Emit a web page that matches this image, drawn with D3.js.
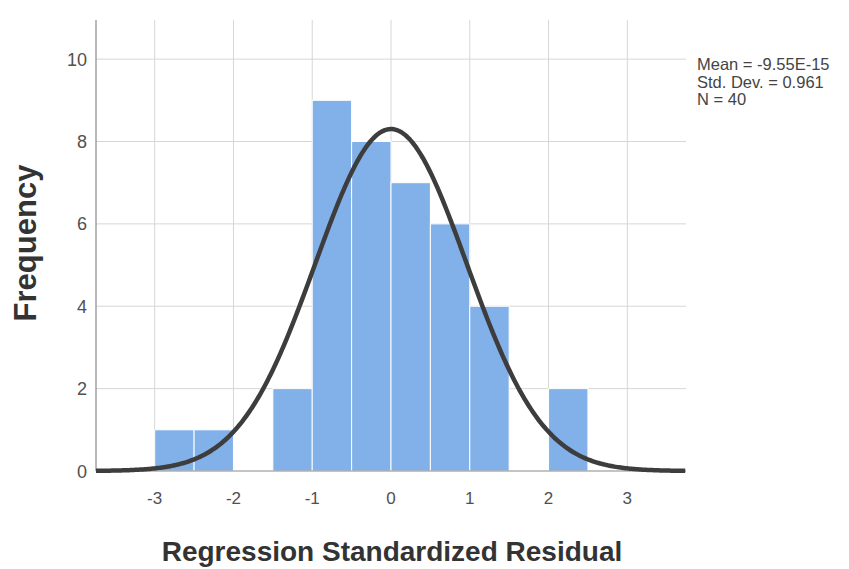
<!DOCTYPE html>
<html>
<head>
<meta charset="utf-8">
<script src="https://cdn.jsdelivr.net/npm/d3@7"></script>
<style>
  body { margin: 0; background: white; }
  text { font-family: "Liberation Sans", Arial, sans-serif; }
</style>
</head>
<body>
<svg id="chart" width="849" height="569"></svg>
<script>
// histogram bins (lower edge, upper edge) and counts
var binStart = [-3, -2.5, -1.5, -1, -0.5, 0, 0.5, 1, 2]
var binEnd   = [-2.5, -2, -1, -0.5, 0, 0.5, 1, 1.5, 2.5]
var counts   = [1, 1, 2, 9, 8, 7, 6, 4, 2]
var xTicks = [-3, -2, -1, 0, 1, 2, 3]
var yTicks = [0, 2, 4, 6, 8, 10]
var stats = ['Mean = -9.55E-15', 'Std. Dev. = 0.961', 'N = 40']
var mean = 0, sd = 0.961, n = 40, binWidth = 0.5

var svg = d3.select('#chart')
var plotLeft = 96, plotRight = 686, plotTop = 20, plotBottom = 471

var x = d3.scaleLinear().domain([-3.745, 3.745]).range([plotLeft, plotRight])
var y = d3.scaleLinear().domain([0, 10.95]).range([plotBottom, plotTop])

// grid
svg.append('g').selectAll('line').data(yTicks.filter(function(d){ return d > 0 }))
  .enter().append('line')
  .attr('x1', plotLeft).attr('x2', plotRight)
  .attr('y1', function(d){ return y(d) }).attr('y2', function(d){ return y(d) })
  .style('stroke', '#d6d6d6').style('stroke-width', 1)
svg.append('g').selectAll('line').data(xTicks)
  .enter().append('line')
  .attr('x1', function(d){ return x(d) }).attr('x2', function(d){ return x(d) })
  .attr('y1', plotTop).attr('y2', plotBottom)
  .style('stroke', '#d6d6d6').style('stroke-width', 1)

// bars
svg.append('g').selectAll('rect').data(counts)
  .enter().append('rect')
  .attr('x', function(d, i){ return x(binStart[i]) })
  .attr('width', function(d, i){ return x(binEnd[i]) - x(binStart[i]) })
  .attr('y', function(d){ return y(d) })
  .attr('height', function(d){ return plotBottom - y(d) })
  .style('fill', '#82b1ea')
  .style('stroke', '#ffffff')
  .style('stroke-width', 1)

// axes lines
svg.append('line').attr('x1', plotLeft).attr('x2', plotLeft).attr('y1', plotTop).attr('y2', plotBottom)
  .style('stroke', '#8a8a8a').style('stroke-width', 1.2)
svg.append('line').attr('x1', plotLeft).attr('x2', plotRight).attr('y1', plotBottom).attr('y2', plotBottom)
  .style('stroke', '#8a8a8a').style('stroke-width', 1.2)

// normal curve
var curve = d3.range(-3.745, 3.7451, 0.02).map(function(v) {
  var f = n * binWidth / (sd * Math.sqrt(2 * Math.PI)) * Math.exp(-0.5 * Math.pow((v - mean) / sd, 2))
  return [v, f]
})
svg.append('path')
  .datum(curve)
  .attr('d', d3.line().x(function(d){ return x(d[0]) }).y(function(d){ return y(d[1]) }))
  .style('fill', 'none')
  .style('stroke', '#3d3d3d')
  .style('stroke-width', 4.5)

// tick labels
svg.append('g').selectAll('text').data(xTicks)
  .enter().append('text')
  .attr('x', function(d){ return x(d) })
  .attr('y', 504)
  .style('text-anchor', 'middle')
  .style('font-size', '17px')
  .style('fill', '#505050')
  .text(function(d){ return d })
svg.append('g').selectAll('text').data(yTicks)
  .enter().append('text')
  .attr('x', 87)
  .attr('y', function(d){ return y(d) + 6.5 })
  .style('text-anchor', 'end')
  .style('font-size', '18px')
  .style('fill', '#505050')
  .text(function(d){ return d })

// axis titles
svg.append('text')
  .attr('transform', 'translate(36,243) rotate(-90)')
  .style('text-anchor', 'middle')
  .style('font-size', '31px')
  .style('font-weight', 'bold')
  .style('fill', '#333')
  .text('Frequency')
svg.append('text')
  .attr('x', 392).attr('y', 561)
  .style('text-anchor', 'middle')
  .style('font-size', '28px')
  .style('font-weight', 'bold')
  .style('fill', '#333')
  .text('Regression Standardized Residual')

// stats box
svg.append('g').selectAll('text').data(stats)
  .enter().append('text')
  .attr('x', 697)
  .attr('y', function(d, i){ return 70 + i * 17.5 })
  .style('font-size', '16.5px')
  .style('fill', '#444')
  .text(function(d){ return d })
</script>
</body>
</html>
